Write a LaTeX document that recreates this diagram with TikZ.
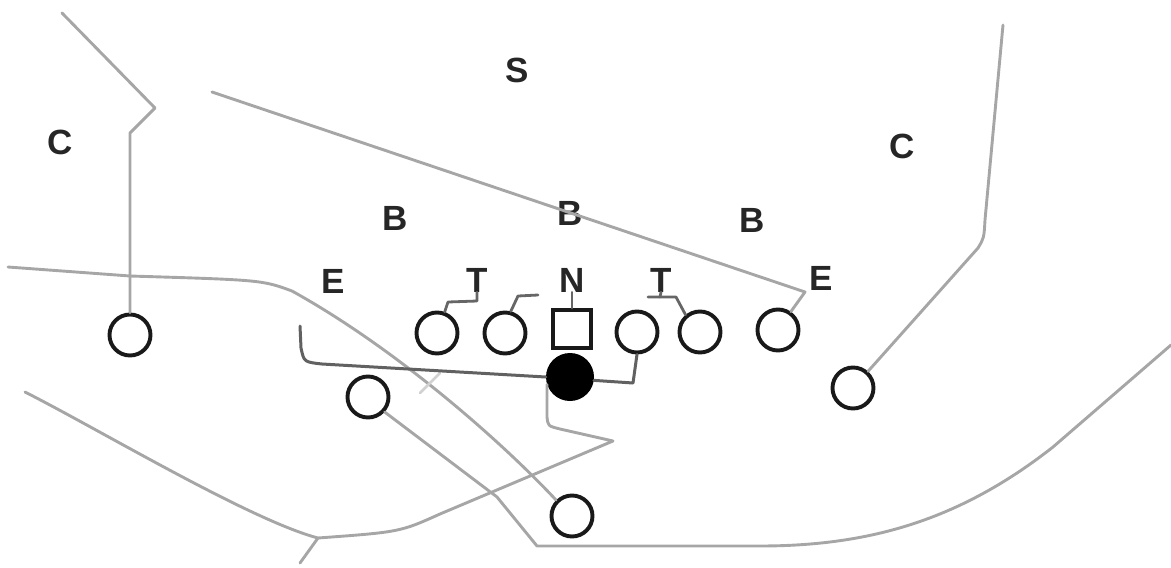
\documentclass[tikz,border=0pt]{standalone}
\usepackage{fontspec}
\setmainfont{Liberation Sans}
\begin{document}
\begin{tikzpicture}[x=1pt,y=-1pt,
  player/.style={circle,draw=black!90,line width=3.9pt,minimum size=41pt,inner sep=0pt},
  centerbox/.style={rectangle,draw=black!90,line width=3.9pt,minimum size=38pt,inner sep=0pt},
  qbdot/.style={circle,fill=black,minimum size=48pt,inner sep=0pt},
  lbl/.style={font=\fontsize{35}{40}\selectfont\bfseries,text=black!85,inner sep=0pt},
  route/.style={draw=black!35,line width=2.9pt,line join=round,line cap=round},
  darkroute/.style={draw=black!62,line width=3pt,line join=round,line cap=round},
  faint/.style={draw=black!18,line width=2.6pt,line cap=round},
  linemark/.style={draw=black!60,line width=2.8pt,line join=round,line cap=round}
]
\useasboundingbox (0,0) rectangle (1171,568);

% defensive labels
\node[lbl] (s)  at (517,70)  {S};
\node[lbl] (c1) at (60,142)  {C};
\node[lbl] (c2) at (902,146) {C};
\node[lbl] (b1) at (395,218) {B};
\node[lbl] (b2) at (570,213) {B};
\node[lbl] (b3) at (752,220) {B};
\node[lbl] (e1) at (333,281) {E};
\node[lbl] (t1) at (477,280) {T};
\node[lbl] (n)  at (572,280) {N};
\node[lbl] (t2) at (661,280) {T};
\node[lbl] (e2) at (821,278) {E};

% offensive players
\node[player] (lwr) at (130,335) {};
\node[player] (lg)  at (437,333) {};
\node[player] (lg2) at (505,333) {};
\node[centerbox] (ctr) at (572,329) {};
\node[player] (rg)  at (637,332) {};
\node[player] (rt)  at (700,332) {};
\node[player] (te)  at (778,330) {};
\node[player] (hb)  at (368,397) {};
\node[player] (rwr) at (853,388) {};
\node[player] (fb)  at (572,516) {};

% free ends
\coordinate (fwr) at (62,13);
\coordinate (fte) at (212,92);
\coordinate (frw) at (1003,25);
\coordinate (fhb) at (1171,345);
\coordinate (ffb) at (8,267);
\coordinate (fqb) at (25,392);
\coordinate (fmo) at (300,326);
\coordinate (tk1) at (318,538);
\coordinate (tk2) at (300,563);
\coordinate (fa1) at (440,373);
\coordinate (fa2) at (420,393);

% routes
\draw[route] (lwr.north) -- (130,133) -- (155,108) -- (fwr);
\draw[route] (te.55) -- (805,292) -- (fte);
\draw[route] (rwr.48) -- (978,248) .. controls (984,238) .. (985,220) -- (frw);
\draw[route] (hb.-42) -- (497,497) -- (537,546) -- (760,546)
  .. controls (870,546) and (960,520) .. (1053,447) -- (fhb);
\draw[route] (fb.135) .. controls (500,440) and (395,348) .. (292,291)
  .. controls (262,280) .. (130,276) -- (ffb);
\draw[faint] (fa1) -- (fa2);

% quarterback
\node[qbdot] (qb) at (570,377) {};
\draw[route] (qb.198) -- (547,417) .. controls (548,426) .. (560,429) -- (613,441)
  -- (440,514) .. controls (400,532) .. (tk1)
  .. controls (250,520) and (100,430) .. (fqb);
\draw[route] (tk1) -- (tk2);
\draw[darkroute] (fmo) -- (301,348) .. controls (304,362) .. (322,364) -- (qb.180);
\draw[darkroute] (qb.-8) -- (633,383) -- (rg.south);

% defensive line marks
\draw[linemark] (t1.south) -- (477,301) -- (448,302) -- (lg.70);
\draw[linemark] (lg2.75) -- (518,296) -- (538,295);
\draw[linemark] (n.south) -- (ctr.north);
\draw[linemark] (t2.south) -- (660,297);
\draw[linemark] (648,297) -- (676,297) -- (rt.130);
\end{tikzpicture}
\end{document}
